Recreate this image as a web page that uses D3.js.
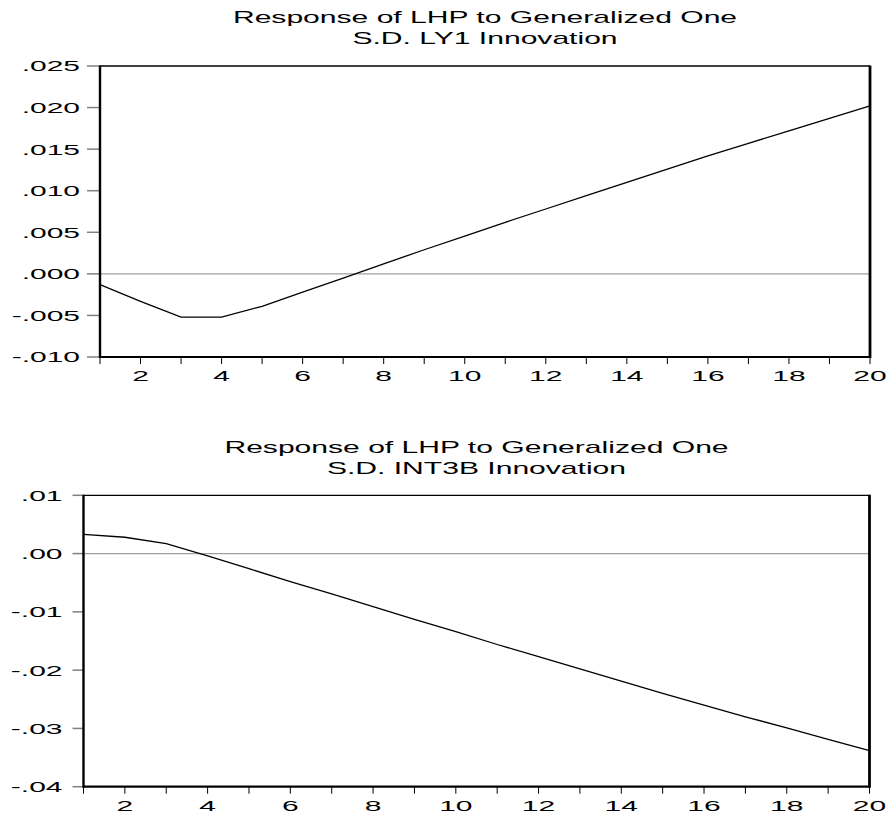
<!DOCTYPE html>
<html>
<head>
<meta charset="utf-8">
<script src="https://cdn.jsdelivr.net/npm/d3@7"></script>
<style>
  body { margin: 0; background: #fff; }
  svg { display: block; font-family: "Liberation Sans", Arial, sans-serif; }
</style>
</head>
<body>
<svg id="chart" width="888" height="814"></svg>
<script>
// periods after the shock
const periods = d3.range(1, 21);
const xTickLabels = [2, 4, 6, 8, 10, 12, 14, 16, 18, 20];

// response of LHP to one S.D. LY1 innovation
const lhpToLy1 = [-0.0013, -0.0033, -0.0052, -0.0052, -0.0039, -0.0022, -0.0005, 0.0012, 0.0029, 0.00455,
                  0.0062, 0.0078, 0.0094, 0.0110, 0.0126, 0.0142, 0.0157, 0.0172, 0.0187, 0.0202];
const ly1Ticks = [-0.010, -0.005, 0.000, 0.005, 0.010, 0.015, 0.020, 0.025];

// response of LHP to one S.D. INT3B innovation
const lhpToInt3b = [0.0033, 0.0028, 0.0017, -0.0004, -0.0026, -0.0048, -0.0069, -0.0091, -0.0113, -0.0134,
                    -0.0156, -0.0177, -0.0198, -0.0219, -0.0240, -0.0260, -0.0280, -0.0299, -0.0319, -0.0338];
const int3bTicks = [-0.04, -0.03, -0.02, -0.01, 0.00, 0.01];

const svg = d3.select("#chart");
const stretch = 2.0; // text in the original is stretched sideways

function panel(opts) {
    let g = svg.append("g");
    let x = d3.scaleLinear().domain([1, 20]).range([opts.left, opts.right]);
    let y = d3.scaleLinear().domain(opts.domain).range([opts.bottom, opts.top]);

    // title, two lines
    opts.title.forEach(function (t, i) {
        g.append("text")
            .attr("transform", "translate(" + ((opts.left + opts.right) / 2) + "," + (opts.titleY + i * 20.5) + ") scale(1.88,1)")
            .attr("text-anchor", "middle")
            .attr("font-size", 16)
            .attr("fill", "#000")
            .text(t);
    });

    // zero line
    g.append("line")
        .attr("x1", opts.left).attr("x2", opts.right)
        .attr("y1", y(0)).attr("y2", y(0))
        .attr("stroke", "#a0a0a0").attr("stroke-width", 1.2);

    // y ticks + labels
    let yt = g.selectAll(".yt").data(opts.ticks).enter().append("g")
        .attr("transform", function (d) { return "translate(0," + y(d) + ")"; });
    yt.append("line")
        .attr("x1", opts.left - opts.tickLen).attr("x2", opts.left)
        .attr("stroke", "#808080").attr("stroke-width", 1.5);
    yt.append("text")
        .attr("transform", "translate(" + (opts.left - opts.tickLen - opts.labelGap) + ",0) scale(" + stretch + ",1)")
        .attr("text-anchor", "end")
        .attr("dy", "0.36em")
        .attr("font-size", 15)
        .text(function (d) { return d3.format(opts.fmt)(d).replace("0.", ".").replace("−", "-"); });

    // x ticks every period, labels on even ones
    g.selectAll(".xt").data(periods).enter().append("line")
        .attr("x1", function (d) { return x(d); }).attr("x2", function (d) { return x(d); })
        .attr("y1", opts.bottom).attr("y2", opts.bottom + 7)
        .attr("stroke", "#000").attr("stroke-width", 1);
    g.selectAll(".xl").data(xTickLabels).enter().append("text")
        .attr("transform", function (d) { return "translate(" + x(d) + "," + (opts.bottom + 24) + ") scale(" + stretch + ",1)"; })
        .attr("text-anchor", "middle")
        .attr("font-size", 15)
        .text(function (d) { return d; });

    // response line
    let line = d3.line()
        .x(function (d, i) { return x(periods[i]); })
        .y(function (d) { return y(d); });
    g.append("path")
        .datum(opts.values)
        .attr("d", line)
        .attr("fill", "none")
        .attr("stroke", "#000")
        .attr("stroke-width", 1.3);

    // frame: thin top, heavy left/right/bottom
    g.append("line").attr("x1", opts.left).attr("x2", opts.right).attr("y1", opts.top).attr("y2", opts.top)
        .attr("stroke", "#000").attr("stroke-width", 1.3);
    g.append("line").attr("x1", opts.left).attr("x2", opts.right).attr("y1", opts.bottom).attr("y2", opts.bottom)
        .attr("stroke", "#000").attr("stroke-width", 2.2);
    g.append("line").attr("x1", opts.left).attr("x2", opts.left).attr("y1", opts.top - 0.6).attr("y2", opts.bottom + 1)
        .attr("stroke", "#000").attr("stroke-width", 2.4);
    g.append("line").attr("x1", opts.right).attr("x2", opts.right).attr("y1", opts.top - 0.6).attr("y2", opts.bottom + 1)
        .attr("stroke", "#000").attr("stroke-width", 2.8);
}

panel({
    title: ["Response of LHP to Generalized One", "S.D. LY1 Innovation"],
    titleY: 23,
    left: 100, right: 870, top: 66, bottom: 357,
    domain: [-0.010, 0.025],
    ticks: ly1Ticks,
    fmt: ".3f",
    tickLen: 13, labelGap: 7,
    values: lhpToLy1
});

panel({
    title: ["Response of LHP to Generalized One", "S.D. INT3B Innovation"],
    titleY: 453,
    left: 83.5, right: 869.5, top: 495.3, bottom: 786.7,
    domain: [-0.04, 0.01],
    ticks: int3bTicks,
    fmt: ".2f",
    tickLen: 11, labelGap: 10,
    values: lhpToInt3b
});
</script>
</body>
</html>
